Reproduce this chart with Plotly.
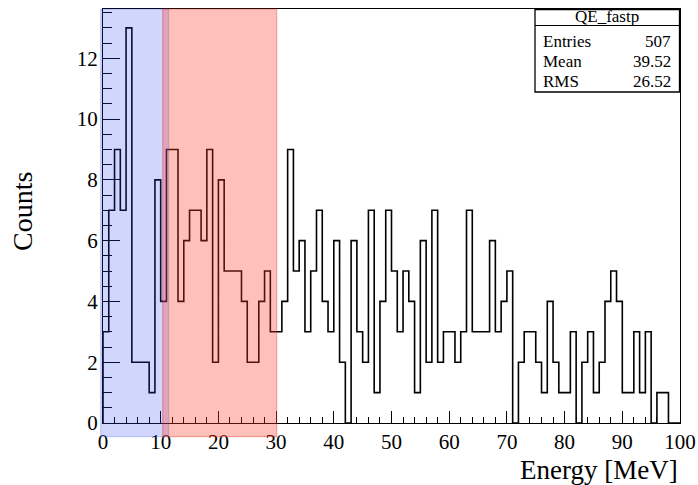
import plotly.graph_objects as go

# ---- data ----
BIN_EDGES_LOW = list(range(0, 100))          # MeV, 1 MeV bins
COUNTS = [3, 7, 9, 7, 13, 2, 2, 2, 1, 8,
          4, 9, 9, 4, 6, 7, 7, 6, 9, 2,
          8, 5, 5, 5, 4, 2, 2, 4, 5, 3,
          3, 4, 9, 5, 6, 3, 5, 7, 4, 3,
          6, 2, 0, 6, 3, 2, 7, 1, 4, 7,
          5, 3, 5, 4, 1, 6, 2, 7, 2, 3,
          3, 2, 3, 7, 3, 3, 3, 6, 3, 4,
          5, 0, 2, 3, 3, 2, 1, 4, 2, 1,
          1, 3, 0, 2, 3, 1, 2, 4, 5, 4,
          1, 1, 3, 1, 3, 0, 1, 1, 0, 0]
X_MAX = 100
X_RANGE = [0, 100]
Y_RANGE = [0, 13.62]
X_TICKS = [0, 10, 20, 30, 40, 50, 60, 70, 80, 90, 100]
Y_TICKS = [0, 2, 4, 6, 8, 10, 12]
BLUE_BAND = [-0.4, 11.4]   # MeV
RED_BAND = [10.35, 30.1]   # MeV
BAND_BOTTOM = -0.45        # counts (boxes reach slightly below the axis)
STATS_TITLE = "QE_fastp"
STATS_NAMES = ["Entries", "Mean", "RMS"]
STATS_VALUES = ["507", "39.52", "26.52"]

FONT = "Liberation Serif"

# step outline like a ROOT histogram
xs = [X_RANGE[0]] + BIN_EDGES_LOW + [X_MAX, X_MAX]
ys = [0] + COUNTS + [COUNTS[-1], 0]

fig = go.Figure()
fig.add_trace(go.Scatter(
    x=xs, y=ys, mode="lines", line=dict(shape="hv", color="black", width=1.6),
    hoverinfo="skip", showlegend=False, cliponaxis=False))

W, H = 698, 485
ML, MR, MT, MB = 103, 18, 9, 62


def xp(v):
    return (v - X_RANGE[0]) / (X_RANGE[1] - X_RANGE[0])


def yp(v):
    return (v - Y_RANGE[0]) / (Y_RANGE[1] - Y_RANGE[0])


shapes = [
    dict(type="rect", xref="paper", yref="paper",
         x0=xp(BLUE_BAND[0]), x1=xp(BLUE_BAND[1]), y0=yp(BAND_BOTTOM), y1=1,
         fillcolor="rgba(40,70,240,0.22)", line=dict(color="rgba(40,70,240,0.25)", width=1),
         layer="above"),
    dict(type="rect", xref="paper", yref="paper",
         x0=xp(RED_BAND[0]), x1=xp(RED_BAND[1]), y0=yp(BAND_BOTTOM), y1=1,
         fillcolor="rgba(255,60,40,0.32)", line=dict(color="rgba(230,40,30,0.35)", width=1.2),
         layer="above"),
]

# stats box (pixel positions converted to paper)
pw, ph = W - ML - MR, H - MT - MB


def px_x(p):
    return (p - ML) / pw


def px_y(p):
    return (H - MB - p) / ph


box_l, box_r, box_t, box_b, box_div = 535, 679.5, 9.5, 92, 25.5
shapes.append(dict(type="rect", xref="paper", yref="paper",
                   x0=px_x(box_l), x1=px_x(box_r), y0=px_y(box_b), y1=px_y(box_t),
                   fillcolor="white", line=dict(color="black", width=1.3), layer="above"))
shapes.append(dict(type="line", xref="paper", yref="paper",
                   x0=px_x(box_l), x1=px_x(box_r), y0=px_y(box_div), y1=px_y(box_div),
                   line=dict(color="black", width=1.2), layer="above"))

annotations = [
    dict(text=STATS_TITLE, xref="paper", yref="paper", x=px_x((box_l + box_r) / 2),
         y=px_y(17), xanchor="center", yanchor="middle", showarrow=False,
         font=dict(family=FONT, size=17, color="black")),
]
row_y = [41, 61.5, 81.5]
for name, val, ry in zip(STATS_NAMES, STATS_VALUES, row_y):
    annotations.append(dict(text=name, xref="paper", yref="paper", x=px_x(541),
                            y=px_y(ry), xanchor="left", yanchor="middle", showarrow=False,
                            font=dict(family=FONT, size=17, color="black")))
    annotations.append(dict(text=val, xref="paper", yref="paper", x=px_x(673),
                            y=px_y(ry), xanchor="right", yanchor="middle", showarrow=False,
                            font=dict(family=FONT, size=17, color="black")))

annotations.append(dict(text="Counts", xref="paper", yref="paper", x=px_x(23), y=px_y(212),
                        xanchor="center", yanchor="middle", textangle=-90, showarrow=False,
                        font=dict(family=FONT, size=28, color="black")))
annotations.append(dict(text="Energy [MeV]", xref="paper", yref="paper", x=1.0, y=px_y(470),
                        xanchor="right", yanchor="middle", showarrow=False,
                        font=dict(family=FONT, size=27, color="black")))

fig.update_layout(
    template="none",
    width=W, height=H, margin=dict(l=ML, r=MR, t=MT, b=MB, pad=0),
    paper_bgcolor="white", plot_bgcolor="white",
    shapes=shapes, annotations=annotations,
    font=dict(family=FONT, color="black"),
    xaxis=dict(range=X_RANGE, tickvals=X_TICKS, ticks="inside", ticklen=12, tickwidth=1.2,
               tickcolor="black", showline=True, linecolor="black", linewidth=1.3, mirror=True,
               automargin=False,
               showgrid=False, zeroline=False, tickfont=dict(family=FONT, size=21, color="black"),
               minor=dict(dtick=2, ticks="inside", ticklen=6, tickwidth=1.2, tickcolor="black",
                          showgrid=False)),
    yaxis=dict(range=Y_RANGE, tickvals=Y_TICKS, ticks="inside", ticklen=17, tickwidth=1.2,
               tickcolor="black", showline=True, linecolor="black", linewidth=1.3, mirror=True,
               automargin=False,
               showgrid=False, zeroline=False, tickfont=dict(family=FONT, size=21, color="black"),
               minor=dict(dtick=0.5, ticks="inside", ticklen=9, tickwidth=1.2, tickcolor="black",
                          showgrid=False)),
)

fig.write_html("out.html")
